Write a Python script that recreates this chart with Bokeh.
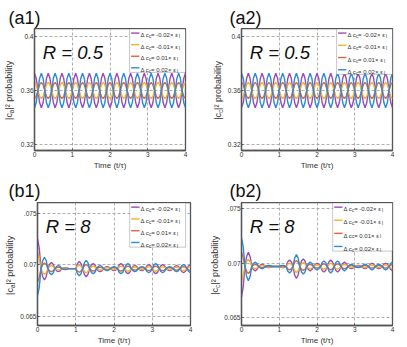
from math import pi
from bokeh.plotting import figure
from bokeh.layouts import row, column
from bokeh.models import Label, BoxAnnotation, FixedTicker
from bokeh.embed import file_html
from bokeh.resources import INLINE

FONT = "Liberation Sans"

time_pts = [k / 22 for k in range(89)]

a1_purple = [
    0.3728, 0.3691, 0.3600, 0.3509, 0.3472, 0.3509, 0.3600, 0.3691,
    0.3728, 0.3691, 0.3600, 0.3509, 0.3472, 0.3509, 0.3600, 0.3691,
    0.3728, 0.3691, 0.3600, 0.3509, 0.3472, 0.3509, 0.3600, 0.3691,
    0.3728, 0.3691, 0.3600, 0.3509, 0.3472, 0.3509, 0.3600, 0.3691,
    0.3728, 0.3691, 0.3600, 0.3509, 0.3472, 0.3509, 0.3600, 0.3691,
    0.3728, 0.3691, 0.3600, 0.3509, 0.3472, 0.3509, 0.3600, 0.3691,
    0.3728, 0.3691, 0.3600, 0.3509, 0.3472, 0.3509, 0.3600, 0.3691,
    0.3728, 0.3691, 0.3600, 0.3509, 0.3472, 0.3509, 0.3600, 0.3691,
    0.3728, 0.3691, 0.3600, 0.3509, 0.3472, 0.3509, 0.3600, 0.3691,
    0.3728, 0.3691, 0.3600, 0.3509, 0.3472, 0.3509, 0.3600, 0.3691,
    0.3728, 0.3691, 0.3600, 0.3509, 0.3472, 0.3509, 0.3600, 0.3691,
    0.3728]
a1_yellow = [
    0.3660, 0.3643, 0.3600, 0.3557, 0.3540, 0.3557, 0.3600, 0.3643,
    0.3660, 0.3643, 0.3600, 0.3557, 0.3540, 0.3557, 0.3600, 0.3643,
    0.3660, 0.3643, 0.3600, 0.3557, 0.3540, 0.3557, 0.3600, 0.3643,
    0.3660, 0.3643, 0.3600, 0.3557, 0.3540, 0.3557, 0.3600, 0.3643,
    0.3660, 0.3643, 0.3600, 0.3557, 0.3540, 0.3557, 0.3600, 0.3643,
    0.3660, 0.3643, 0.3600, 0.3557, 0.3540, 0.3557, 0.3600, 0.3643,
    0.3660, 0.3643, 0.3600, 0.3557, 0.3540, 0.3557, 0.3600, 0.3643,
    0.3660, 0.3643, 0.3600, 0.3557, 0.3540, 0.3557, 0.3600, 0.3643,
    0.3660, 0.3643, 0.3600, 0.3557, 0.3540, 0.3557, 0.3600, 0.3643,
    0.3660, 0.3643, 0.3600, 0.3557, 0.3540, 0.3557, 0.3600, 0.3643,
    0.3660, 0.3643, 0.3600, 0.3557, 0.3540, 0.3557, 0.3600, 0.3643,
    0.3660]
a1_orange = [
    0.3540, 0.3557, 0.3600, 0.3643, 0.3660, 0.3643, 0.3600, 0.3557,
    0.3540, 0.3557, 0.3600, 0.3643, 0.3660, 0.3643, 0.3600, 0.3557,
    0.3540, 0.3557, 0.3600, 0.3643, 0.3660, 0.3643, 0.3600, 0.3557,
    0.3540, 0.3557, 0.3600, 0.3643, 0.3660, 0.3643, 0.3600, 0.3557,
    0.3540, 0.3557, 0.3600, 0.3643, 0.3660, 0.3643, 0.3600, 0.3557,
    0.3540, 0.3557, 0.3600, 0.3643, 0.3660, 0.3643, 0.3600, 0.3557,
    0.3540, 0.3557, 0.3600, 0.3643, 0.3660, 0.3643, 0.3600, 0.3557,
    0.3540, 0.3557, 0.3600, 0.3643, 0.3660, 0.3643, 0.3600, 0.3557,
    0.3540, 0.3557, 0.3600, 0.3643, 0.3660, 0.3643, 0.3600, 0.3557,
    0.3540, 0.3557, 0.3600, 0.3643, 0.3660, 0.3643, 0.3600, 0.3557,
    0.3540, 0.3557, 0.3600, 0.3643, 0.3660, 0.3643, 0.3600, 0.3557,
    0.3540]
a1_blue = [
    0.3472, 0.3509, 0.3600, 0.3691, 0.3728, 0.3691, 0.3600, 0.3509,
    0.3472, 0.3509, 0.3600, 0.3691, 0.3728, 0.3691, 0.3600, 0.3509,
    0.3472, 0.3509, 0.3600, 0.3691, 0.3728, 0.3691, 0.3600, 0.3509,
    0.3472, 0.3509, 0.3600, 0.3691, 0.3728, 0.3691, 0.3600, 0.3509,
    0.3472, 0.3509, 0.3600, 0.3691, 0.3728, 0.3691, 0.3600, 0.3509,
    0.3472, 0.3509, 0.3600, 0.3691, 0.3728, 0.3691, 0.3600, 0.3509,
    0.3472, 0.3509, 0.3600, 0.3691, 0.3728, 0.3691, 0.3600, 0.3509,
    0.3472, 0.3509, 0.3600, 0.3691, 0.3728, 0.3691, 0.3600, 0.3509,
    0.3472, 0.3509, 0.3600, 0.3691, 0.3728, 0.3691, 0.3600, 0.3509,
    0.3472, 0.3509, 0.3600, 0.3691, 0.3728, 0.3691, 0.3600, 0.3509,
    0.3472, 0.3509, 0.3600, 0.3691, 0.3728, 0.3691, 0.3600, 0.3509,
    0.3472]

# (a2) shows the same curves with the +/- pairs in opposite phase
a2_purple = a1_blue
a2_yellow = a1_orange
a2_orange = a1_yellow
a2_blue = a1_purple

b1_purple = [
    0.07255, 0.07165, 0.06965, 0.06887, 0.06855, 0.06887, 0.06965, 0.07008,
    0.07025, 0.07008, 0.06965, 0.06944, 0.06935, 0.06944, 0.06965, 0.06972,
    0.06975, 0.06972, 0.06965, 0.06965, 0.06965, 0.06965, 0.06965, 0.07015,
    0.07035, 0.07015, 0.06965, 0.06908, 0.06885, 0.06908, 0.06965, 0.07001,
    0.07015, 0.07001, 0.06965, 0.06944, 0.06935, 0.06944, 0.06965, 0.06979,
    0.06985, 0.06979, 0.06965, 0.06951, 0.06945, 0.06951, 0.06965, 0.07001,
    0.07015, 0.07001, 0.06965, 0.06929, 0.06915, 0.06929, 0.06965, 0.06986,
    0.06995, 0.06986, 0.06965, 0.06951, 0.06945, 0.06951, 0.06965, 0.06993,
    0.07005, 0.06993, 0.06965, 0.06929, 0.06915, 0.06929, 0.06965, 0.06993,
    0.07005, 0.06993, 0.06965, 0.06951, 0.06945, 0.06951, 0.06965, 0.06986,
    0.06995, 0.06986, 0.06965, 0.06937, 0.06925, 0.06937, 0.06965, 0.06993,
    0.07005]
b1_yellow = [
    0.07125, 0.07060, 0.06965, 0.06926, 0.06910, 0.06926, 0.06965, 0.06987,
    0.06995, 0.06987, 0.06965, 0.06955, 0.06950, 0.06955, 0.06965, 0.06969,
    0.06970, 0.06969, 0.06965, 0.06965, 0.06965, 0.06965, 0.06965, 0.06990,
    0.07000, 0.06990, 0.06965, 0.06937, 0.06925, 0.06937, 0.06965, 0.06983,
    0.06990, 0.06983, 0.06965, 0.06955, 0.06950, 0.06955, 0.06965, 0.06972,
    0.06975, 0.06972, 0.06965, 0.06958, 0.06955, 0.06958, 0.06965, 0.06983,
    0.06990, 0.06983, 0.06965, 0.06947, 0.06940, 0.06947, 0.06965, 0.06976,
    0.06980, 0.06976, 0.06965, 0.06958, 0.06955, 0.06958, 0.06965, 0.06979,
    0.06985, 0.06979, 0.06965, 0.06947, 0.06940, 0.06947, 0.06965, 0.06979,
    0.06985, 0.06979, 0.06965, 0.06958, 0.06955, 0.06958, 0.06965, 0.06976,
    0.06980, 0.06976, 0.06965, 0.06951, 0.06945, 0.06951, 0.06965, 0.06979,
    0.06985]
b1_orange = [
    0.06835, 0.06880, 0.06965, 0.07004, 0.07020, 0.07004, 0.06965, 0.06943,
    0.06935, 0.06943, 0.06965, 0.06975, 0.06980, 0.06975, 0.06965, 0.06961,
    0.06960, 0.06961, 0.06965, 0.06965, 0.06965, 0.06965, 0.06965, 0.06940,
    0.06930, 0.06940, 0.06965, 0.06993, 0.07005, 0.06993, 0.06965, 0.06947,
    0.06940, 0.06947, 0.06965, 0.06975, 0.06980, 0.06975, 0.06965, 0.06958,
    0.06955, 0.06958, 0.06965, 0.06972, 0.06975, 0.06972, 0.06965, 0.06947,
    0.06940, 0.06947, 0.06965, 0.06983, 0.06990, 0.06983, 0.06965, 0.06954,
    0.06950, 0.06954, 0.06965, 0.06972, 0.06975, 0.06972, 0.06965, 0.06951,
    0.06945, 0.06951, 0.06965, 0.06983, 0.06990, 0.06983, 0.06965, 0.06951,
    0.06945, 0.06951, 0.06965, 0.06972, 0.06975, 0.06972, 0.06965, 0.06954,
    0.06950, 0.06954, 0.06965, 0.06979, 0.06985, 0.06979, 0.06965, 0.06951,
    0.06945]
b1_blue = [
    0.06705, 0.06780, 0.06965, 0.07043, 0.07075, 0.07043, 0.06965, 0.06922,
    0.06905, 0.06922, 0.06965, 0.06986, 0.06995, 0.06986, 0.06965, 0.06958,
    0.06955, 0.06958, 0.06965, 0.06965, 0.06965, 0.06965, 0.06965, 0.06915,
    0.06895, 0.06915, 0.06965, 0.07022, 0.07045, 0.07022, 0.06965, 0.06929,
    0.06915, 0.06929, 0.06965, 0.06986, 0.06995, 0.06986, 0.06965, 0.06951,
    0.06945, 0.06951, 0.06965, 0.06979, 0.06985, 0.06979, 0.06965, 0.06929,
    0.06915, 0.06929, 0.06965, 0.07001, 0.07015, 0.07001, 0.06965, 0.06944,
    0.06935, 0.06944, 0.06965, 0.06979, 0.06985, 0.06979, 0.06965, 0.06937,
    0.06925, 0.06937, 0.06965, 0.07001, 0.07015, 0.07001, 0.06965, 0.06937,
    0.06925, 0.06937, 0.06965, 0.06979, 0.06985, 0.06979, 0.06965, 0.06944,
    0.06935, 0.06944, 0.06965, 0.06993, 0.07005, 0.06993, 0.06965, 0.06937,
    0.06925]

b2_purple = [
    0.06690, 0.06780, 0.06968, 0.07060, 0.07098, 0.07060, 0.06968, 0.06940,
    0.06928, 0.06940, 0.06968, 0.06982, 0.06988, 0.06982, 0.06968, 0.06961,
    0.06958, 0.06961, 0.06968, 0.06968, 0.06968, 0.06968, 0.06968, 0.06961,
    0.06958, 0.06961, 0.06968, 0.07011, 0.07028, 0.07011, 0.06968, 0.06890,
    0.06858, 0.06890, 0.06968, 0.07018, 0.07038, 0.07018, 0.06968, 0.06940,
    0.06928, 0.06940, 0.06968, 0.06989, 0.06998, 0.06989, 0.06968, 0.06932,
    0.06918, 0.06932, 0.06968, 0.07011, 0.07028, 0.07011, 0.06968, 0.06932,
    0.06918, 0.06932, 0.06968, 0.06996, 0.07008, 0.06996, 0.06968, 0.06954,
    0.06948, 0.06954, 0.06968, 0.06975, 0.06978, 0.06975, 0.06968, 0.06954,
    0.06948, 0.06954, 0.06968, 0.06989, 0.06998, 0.06989, 0.06968, 0.06954,
    0.06948, 0.06954, 0.06968, 0.06989, 0.06998, 0.06989, 0.06968, 0.06940,
    0.06928]
b2_yellow = [
    0.06830, 0.06890, 0.06968, 0.07014, 0.07033, 0.07014, 0.06968, 0.06954,
    0.06948, 0.06954, 0.06968, 0.06975, 0.06978, 0.06975, 0.06968, 0.06964,
    0.06963, 0.06964, 0.06968, 0.06968, 0.06968, 0.06968, 0.06968, 0.06964,
    0.06963, 0.06964, 0.06968, 0.06989, 0.06998, 0.06989, 0.06968, 0.06929,
    0.06913, 0.06929, 0.06968, 0.06993, 0.07003, 0.06993, 0.06968, 0.06954,
    0.06948, 0.06954, 0.06968, 0.06978, 0.06983, 0.06978, 0.06968, 0.06950,
    0.06943, 0.06950, 0.06968, 0.06989, 0.06998, 0.06989, 0.06968, 0.06950,
    0.06943, 0.06950, 0.06968, 0.06982, 0.06988, 0.06982, 0.06968, 0.06961,
    0.06958, 0.06961, 0.06968, 0.06971, 0.06973, 0.06971, 0.06968, 0.06961,
    0.06958, 0.06961, 0.06968, 0.06979, 0.06983, 0.06979, 0.06968, 0.06961,
    0.06958, 0.06961, 0.06968, 0.06979, 0.06983, 0.06979, 0.06968, 0.06954,
    0.06948]
b2_orange = [
    0.07100, 0.07050, 0.06968, 0.06922, 0.06903, 0.06922, 0.06968, 0.06982,
    0.06988, 0.06982, 0.06968, 0.06961, 0.06958, 0.06961, 0.06968, 0.06972,
    0.06973, 0.06972, 0.06968, 0.06968, 0.06968, 0.06968, 0.06968, 0.06972,
    0.06973, 0.06972, 0.06968, 0.06947, 0.06938, 0.06947, 0.06968, 0.07007,
    0.07023, 0.07007, 0.06968, 0.06943, 0.06933, 0.06943, 0.06968, 0.06982,
    0.06988, 0.06982, 0.06968, 0.06958, 0.06953, 0.06958, 0.06968, 0.06986,
    0.06993, 0.06986, 0.06968, 0.06947, 0.06938, 0.06947, 0.06968, 0.06986,
    0.06993, 0.06986, 0.06968, 0.06954, 0.06948, 0.06954, 0.06968, 0.06975,
    0.06978, 0.06975, 0.06968, 0.06965, 0.06963, 0.06965, 0.06968, 0.06975,
    0.06978, 0.06975, 0.06968, 0.06958, 0.06953, 0.06958, 0.06968, 0.06975,
    0.06978, 0.06975, 0.06968, 0.06958, 0.06953, 0.06958, 0.06968, 0.06982,
    0.06988]
b2_blue = [
    0.07228, 0.07153, 0.06968, 0.06876, 0.06838, 0.06876, 0.06968, 0.06996,
    0.07008, 0.06996, 0.06968, 0.06954, 0.06948, 0.06954, 0.06968, 0.06975,
    0.06978, 0.06975, 0.06968, 0.06968, 0.06968, 0.06968, 0.06968, 0.06975,
    0.06978, 0.06975, 0.06968, 0.06925, 0.06908, 0.06925, 0.06968, 0.07046,
    0.07078, 0.07046, 0.06968, 0.06918, 0.06898, 0.06918, 0.06968, 0.06996,
    0.07008, 0.06996, 0.06968, 0.06947, 0.06938, 0.06947, 0.06968, 0.07004,
    0.07018, 0.07004, 0.06968, 0.06925, 0.06908, 0.06925, 0.06968, 0.07004,
    0.07018, 0.07004, 0.06968, 0.06940, 0.06928, 0.06940, 0.06968, 0.06982,
    0.06988, 0.06982, 0.06968, 0.06961, 0.06958, 0.06961, 0.06968, 0.06982,
    0.06988, 0.06982, 0.06968, 0.06947, 0.06938, 0.06947, 0.06968, 0.06982,
    0.06988, 0.06982, 0.06968, 0.06947, 0.06938, 0.06947, 0.06968, 0.06996,
    0.07008]

legend_coefs = ["-0.02", "-0.01", "0.01", "0.02"]
x_ticks = [0, 1, 2, 3, 4]
a_ticks = [0.32, 0.36, 0.40]
a_tick_labels = ["0.32", "0.36", "0.4"]
b_ticks = [0.065, 0.07, 0.075]
b_tick_labels = ["0.065", "0.07", ".075"]
panel_tags = ["(a1)", "(a2)", "(b1)", "(b2)"]

COLORS = ["#9B4DB5", "#F0B232", "#E6633A", "#2B8CD6"]
TXT = "#333333"

# Arial / Liberation Sans advance widths (per 1000 em), used to place sub-scripts
CW = {' ': 278, '-': 333, '.': 278, '=': 584, '\u00d7': 584, '\u0394': 668, 'c': 500,
      '\u03b5': 439, 'l': 222, '|': 260, 'a': 556, '\u00b2': 333, 'p': 556, 'r': 333,
      'o': 556, 'b': 556, 'i': 222, 't': 278, 'y': 500}


def tw(s, size):
    return sum(CW.get(ch, 556) for ch in s) / 1000.0 * size


def blank_fig(w, h, fh, bb):
    # frame = w x fh at the top of the figure (same frame box as the neighbouring panel)
    f = figure(width=w, height=h, x_range=(0, w), y_range=(0, fh), output_backend="svg",
               toolbar_location=None, min_border_left=0, min_border_right=0,
               min_border_top=0, min_border_bottom=bb,
               x_axis_location=None, y_axis_location=None,
               outline_line_color=None, background_fill_color="white", border_fill_color="white")
    f.grid.grid_line_color = None
    return f


def header(w, h, mid, tags_x, tags):
    f = blank_fig(w, h, h, 0)
    for x, tag in zip(tags_x, tags):
        f.add_layout(Label(x=x, y=h - mid, text=tag, text_align="left",
                           text_baseline="middle", text_font=FONT, text_font_size="18px",
                           text_color="#111111"))
    return f


def ylabel_fig(w, h, fh, bb, sub, cx):
    # rotated "|c_x|^2 probability": pieces centred on the vertical line x = cx
    f = blank_fig(w, h, fh, bb)
    s1, s3 = "|c", "|\u00b2 probability"
    w1, w2, w3 = tw(s1, 9), tw(sub, 6.5), tw(s3, 9)
    y0 = fh / 2 - 1.5 - (w1 + w2 + w3) / 2
    for txt, size, x, y in ((s1, "9px", cx, y0), (sub, "6.5px", cx + 2.6, y0 + w1),
                            (s3, "9px", cx, y0 + w1 + w2)):
        f.add_layout(Label(x=x, y=y, text=txt, angle=pi / 2, text_align="left",
                           text_baseline="middle", text_font=FONT, text_font_size=size,
                           text_color=TXT))
    return f


def make_panel(spec):
    fw, fh = spec["frame"]
    y0, y1 = spec["yrange"]
    p = figure(width=spec["bl"] + fw + spec["br"], height=fh + spec["bb"],
               x_range=(0, 4), y_range=(y0, y1),
               output_backend="svg", toolbar_location=None,
               min_border_left=spec["bl"], min_border_right=spec["br"],
               min_border_top=0, min_border_bottom=spec["bb"],
               background_fill_color="white", border_fill_color="white")

    def X(dx):
        return dx / fw * 4.0

    def Y(dy):
        return y1 - dy / fh * (y1 - y0)

    p.outline_line_color = "#555555"
    p.outline_line_width = 1.3
    for ax in (p.xaxis[0], p.yaxis[0]):
        ax.axis_line_color = "#555555"
        ax.axis_line_width = 1.3
        ax.major_tick_in = 2
        ax.major_tick_out = 0
        ax.minor_tick_line_color = None
        ax.major_tick_line_color = "#555555"
        ax.major_label_text_font = FONT
        ax.major_label_text_font_size = "6.5px"
        ax.major_label_text_color = TXT
        ax.major_label_standoff = 1
    p.xaxis.ticker = FixedTicker(ticks=x_ticks)
    p.xaxis.major_label_overrides = {t: str(t) for t in x_ticks}
    p.xaxis.axis_label = "Time (t/\u03c4)"
    p.xaxis.axis_label_text_font = FONT
    p.xaxis.axis_label_text_font_size = "8px"
    p.xaxis.axis_label_text_font_style = "normal"
    p.xaxis.axis_label_text_color = TXT
    p.xaxis.axis_label_standoff = 1
    p.yaxis.ticker = FixedTicker(ticks=spec["yticks"])
    p.yaxis.major_label_overrides = dict(zip(spec["yticks"], spec["ylabels"]))

    p.xgrid.ticker = FixedTicker(ticks=[1, 2, 3])
    p.ygrid.ticker = FixedTicker(ticks=spec["yticks"])
    for g in (p.xgrid[0], p.ygrid[0]):
        g.grid_line_color = "#999999"
        g.grid_line_dash = "3 2"
        g.grid_line_width = 0.8

    for ys, col in zip(spec["series"], COLORS):
        p.line(time_pts, ys, line_color=col, line_width=1.4)

    p.add_layout(Label(x=X(8.5), y=Y(24.5), text=spec["R"], text_align="left",
                       text_baseline="alphabetic", text_font=FONT, text_font_style="italic",
                       text_font_size="18.5px", text_color="#111111"))

    # legend (drawn inside the frame)
    lw, lh, inset = spec["legend"]
    lx = fw - inset - lw
    p.add_layout(BoxAnnotation(left=X(lx), right=X(fw - inset), top=Y(0.5), bottom=Y(lh),
                               fill_color="white", fill_alpha=1.0, line_color="#444444",
                               line_width=1.0, level="annotation"))
    step = (lh - 9.4) / 3
    for i, (coef, col) in enumerate(zip(legend_coefs, COLORS)):
        ey = 4.7 + step * i
        p.segment(x0=[X(lx + 1.5)], y0=[Y(ey)], x1=[X(lx + 10)], y1=[Y(ey)],
                  line_color=col, line_width=1.4, level="overlay")
        tx = lx + 11
        base = ey + 2.2
        parts = (("\u0394 c", 6, 0), ("c", 4.5, 1.4), (" = " + coef + "\u00d7 \u03b5", 6, 0), ("l", 4.5, 1.4))
        for txt, size, sh in parts:
            p.add_layout(Label(x=X(tx), y=Y(base + sh), text=txt, text_align="left",
                               text_baseline="alphabetic", text_font=FONT,
                               text_font_size=f"{size}px", text_color=TXT, level="overlay"))
            tx += tw(txt, size)
    return p


common_a = dict(yrange=(0.3157, 0.4058), yticks=a_ticks, ylabels=a_tick_labels, R="R = 0.5")
common_b = dict(yticks=b_ticks, ylabels=b_tick_labels, R="R = 8")

# row A: frames y 28..153   (widths: 17 + 194 + 13 + 182 = 406)
pa1 = make_panel(dict(common_a, series=[a1_purple, a1_yellow, a1_orange, a1_blue],
                      frame=(154, 125), bl=14, br=26, bb=19, legend=(57, 45, 0)))
pa2 = make_panel(dict(common_a, series=[a2_purple, a2_yellow, a2_orange, a2_blue],
                      frame=(154, 125), bl=14, br=14, bb=19, legend=(57, 47, 0)))
ya1 = ylabel_fig(17, 144, 125, 19, "a", 8.5)
ya2 = ylabel_fig(13, 144, 125, 19, "c", 6.0)

# row B: frames y 202..326   (widths: 17 + 192 + 12 + 185 = 406)
pb1 = make_panel(dict(common_b, yrange=(0.06417, 0.07602),
                      series=[b1_purple, b1_yellow, b1_orange, b1_blue],
                      frame=(156, 124), bl=17, br=19, bb=21, legend=(57, 45, 5)))
pb2 = make_panel(dict(common_b, yrange=(0.06427, 0.07555),
                      series=[b2_purple, b2_yellow, b2_orange, b2_blue],
                      frame=(154, 124), bl=17, br=14, bb=21, legend=(61, 49, 0)))
yb1 = ylabel_fig(17, 145, 124, 21, "a", 9.0)
yb2 = ylabel_fig(12, 145, 124, 21, "c", 5.5)

head_a = header(406, 28, 17.0, [8, 229], panel_tags[:2])
head_b = header(406, 30, 18.5, [8, 229], panel_tags[2:])

layout = column(head_a, row(ya1, pa1, ya2, pa2), head_b, row(yb1, pb1, yb2, pb2))

with open("out.html", "w") as f:
    f.write(file_html(layout, INLINE))
